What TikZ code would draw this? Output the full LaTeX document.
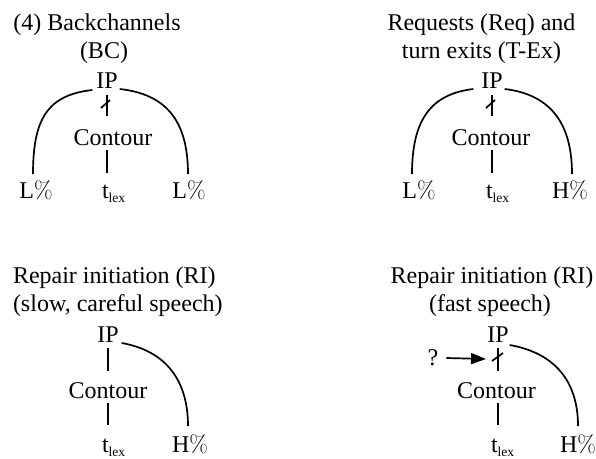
\documentclass[tikz,border=0pt]{standalone}
\usepackage{fontspec}
\setmainfont{Liberation Serif}
\newfontfamily\lmfont{Latin Modern Roman}
\usetikzlibrary{arrows.meta,calc}
\newcommand{\pct}{{\lmfont\%}}
\newcommand{\tlex}{t\raisebox{-4pt}{\fontsize{13.5}{14}\selectfont lex}}
\tikzset{
  txt/.style={inner sep=0pt,outer sep=0pt,anchor=base,font=\fontsize{24}{28}\selectfont},
  ln/.style={line width=1.7pt},
}
\begin{document}
\begin{tikzpicture}[x=1pt,y=-1pt]
\useasboundingbox (0,0) rectangle (596,458);
% ---------- Panel 1 ----------
\node[txt] (t1a) at (97,30) {(4) Backchannels};
\node[txt] (t1b) at (104,58) {(BC)};
\node[txt] (ip1) at (107,88) {IP};
\node[txt] (co1) at (113,145) {Contour};
\node[txt,anchor=base west] (tl1) at (102,198) {\tlex};
\node[txt] (la1) at (36,198) {L\pct};
\node[txt] (lb1) at (189,198) {L\pct};
\draw[ln,shorten <=7pt,shorten >=13pt] (ip1.south) -- (ip1.south |- co1.north);
\draw[ln] ($(ip1.south)+(-6,20)$) -- ($(ip1.south)+(3,12)$);
\draw[ln,shorten <=5pt,shorten >=11pt] (ip1.south |- co1.south) -- (ip1.south |- tl1.north);
\draw[ln] ([shift={(-4,2)}]ip1.south west) .. controls +(-45,5) and +(0,-55) .. ([shift={(-3,-6)}]la1.north);
\draw[ln] ([shift={(2,1)}]ip1.south east) .. controls +(45,5) and +(0,-55) .. ([shift={(-1,-6)}]lb1.north);
% ---------- Panel 2 ----------
\node[txt] (t2a) at (481.5,30) {Requests (Req) and};
\node[txt] (t2b) at (481.5,58) {turn exits (T-Ex)};
\node[txt] (ip2) at (492,88) {IP};
\node[txt] (co2) at (491,145) {Contour};
\node[txt,anchor=base west] (tl2) at (486,198) {\tlex};
\node[txt] (la2) at (419,198) {L\pct};
\node[txt] (hb2) at (570,198) {H\pct};
\draw[ln,shorten <=7pt,shorten >=13pt] (ip2.south) -- (ip2.south |- co2.north);
\draw[ln] ($(ip2.south)+(-6,20)$) -- ($(ip2.south)+(3,12)$);
\draw[ln,shorten <=5pt,shorten >=11pt] (ip2.south |- co2.south) -- (ip2.south |- tl2.north);
\draw[ln] ([shift={(-8,1)}]ip2.south west) .. controls +(-42,5) and +(0,-55) .. ([shift={(-7,-6)}]la2.north);
\draw[ln] ([shift={(2,1)}]ip2.south east) .. controls +(42,5) and +(0,-55) .. ([shift={(2,-6)}]hb2.north);
% ---------- Panel 3 ----------
\node[txt,anchor=base west] (t3a) at (13,283) {Repair initiation (RI)};
\node[txt,anchor=base west] (t3b) at (13,311) {(slow, careful speech)};
\node[txt] (ip3) at (108,342) {IP};
\node[txt] (co3) at (108,398) {Contour};
\node[txt,anchor=base west] (tl3) at (102,452) {\tlex};
\node[txt] (hb3) at (190,452) {H\pct};
\draw[ln,shorten <=6pt,shorten >=11.5pt] (ip3.south) -- (ip3.south |- co3.north);
\draw[ln,shorten <=5pt,shorten >=13pt] (ip3.south |- co3.south) -- (ip3.south |- tl3.north);
\draw[ln] ([shift={(3,1)}]ip3.south east) .. controls +(45,8) and +(0,-45) .. ([shift={(-2,-8)}]hb3.north);
% ---------- Panel 4 ----------
\node[txt] (t4a) at (492,283) {Repair initiation (RI)};
\node[txt] (t4b) at (490,311) {(fast speech)};
\node[txt] (ip4) at (498,342) {IP};
\node[txt] (q4) at (433,365) {?};
\node[txt] (co4) at (496.5,398) {Contour};
\node[txt,anchor=base west] (tl4) at (491,452) {\tlex};
\node[txt] (hb4) at (578,452) {H\pct};
\draw[ln,shorten <=6pt,shorten >=11.5pt] (ip4.south) -- (ip4.south |- co4.north);
\draw[ln] ($(ip4.south)+(-6,19)$) -- ($(ip4.south)+(5,11)$);
\draw[ln,shorten <=5pt,shorten >=13pt] (ip4.south |- co4.south) -- (ip4.south |- tl4.north);
\draw[ln,-{Triangle[length=15pt,width=11pt]}] ([shift={(8,-7)}]q4.base east) -- ($(ip4.south)+(-12,17)$);
\draw[ln] ([shift={(1,3)}]ip4.south east) .. controls +(45,8) and +(0,-45) .. ([shift={(0,-8)}]hb4.north);
\end{tikzpicture}
\end{document}
